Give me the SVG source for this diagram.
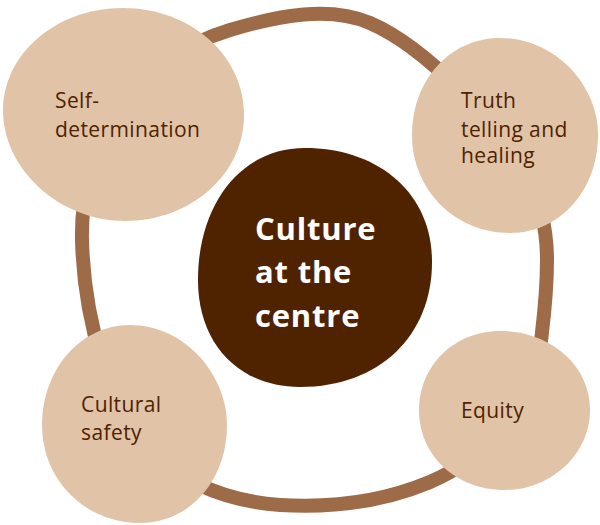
<svg xmlns="http://www.w3.org/2000/svg" width="600" height="525" viewBox="0 0 600 525">
<style>
.node{fill:#E1C4A8}
.lbl{font-family:"Open Sans","Liberation Sans",Arial,sans-serif;font-size:21px;font-weight:500;fill:#4F2200;letter-spacing:0.4px}
.title{font-family:"Open Sans","Liberation Sans",Arial,sans-serif;font-size:31px;font-weight:bold;fill:#FFFFFF;letter-spacing:0.8px}
.ring{fill:none;stroke:#9E6B48;stroke-width:14;stroke-linejoin:round}
</style>
<rect width="600" height="525" fill="#FFFFFF"/>
<g id="connectors">
<path class="ring" d="M 82,240 C 80,150 130,60 230,30 C 280,15 330,6 370,23 C 400,36 430,60 460,90 C 520,140 547,200 547,260 C 547,300 542,330 540,350 C 530,420 480,460 430,482 C 380,503 330,508 280,505 C 240,502 190,490 150,450 C 110,410 84,320 82,240 Z"/>
</g>
<g id="center">
<path d="M 305,148 C 375,148 432,190 432,262 C 432,335 380,387 300,387 C 240,387 198,345 198,280 C 198,205 240,148 305,148 Z" fill="#4F2200"/>
<text class="title" x="255" y="240">Culture</text>
<text class="title" x="255" y="283">at the</text>
<text class="title" x="255" y="327">centre</text>
</g>
<g id="self-determination">
<path class="node" d="M 123,8 C 190,8 244,55 244,115 C 244,175 190,221 125,221 C 60,221 3,170 3,110 C 3,55 55,8 123,8 Z"/>
<text class="lbl" x="55" y="108">Self-</text>
<text class="lbl" x="55" y="137">determination</text>
</g>
<g id="truth-telling">
<path class="node" d="M 500,38 C 555,38 598,85 598,135 C 598,190 560,233 510,233 C 455,233 412,190 412,135 C 412,80 450,38 500,38 Z"/>
<text class="lbl" x="461" y="108">Truth</text>
<text class="lbl" x="461" y="137">telling and</text>
<text class="lbl" x="461" y="163">healing</text>
</g>
<g id="cultural-safety">
<path class="node" d="M 130,325 C 185,325 227,375 227,425 C 227,480 190,523 140,523 C 85,523 42,480 42,425 C 42,370 80,325 130,325 Z"/>
<text class="lbl" x="81" y="412">Cultural</text>
<text class="lbl" x="81" y="440">safety</text>
</g>
<g id="equity">
<path class="node" d="M 500,331 C 550,331 590,365 590,410 C 590,455 550,490 505,490 C 455,490 419,455 419,410 C 419,365 455,331 500,331 Z"/>
<text class="lbl" x="461" y="418">Equity</text>
</g>
</svg>
